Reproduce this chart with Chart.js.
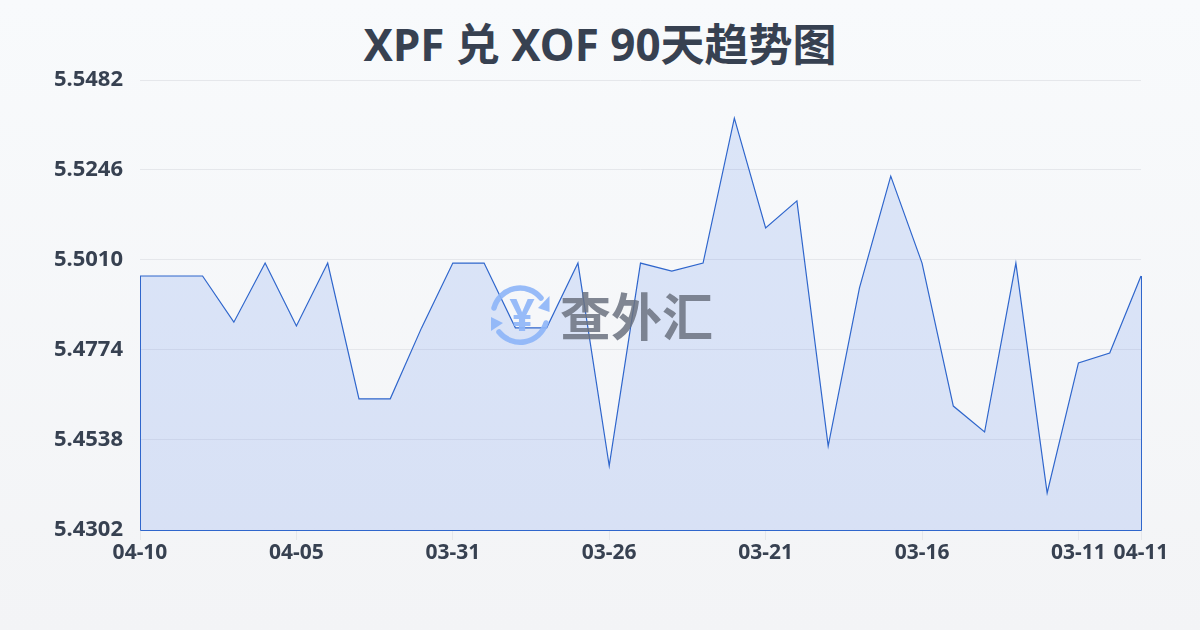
<!DOCTYPE html>
<html><head><meta charset="utf-8">
<script src="https://cdn.jsdelivr.net/npm/chart.js@4"></script>
<style>
html,body{margin:0;padding:0;width:1200px;height:630px;overflow:hidden;background:linear-gradient(180deg,#f8fafc 0%,#f3f4f6 100%);}
#wrap{position:relative;width:1200px;height:630px;}
#title{position:absolute;left:0;top:12px;width:1200px;text-align:center;font:700 44px/64px "Noto Sans","Noto Sans CJK SC";color:#374151;white-space:nowrap;}
#logo{position:absolute;left:0;top:0;z-index:2;opacity:.92;}
#markText{position:absolute;left:560px;top:282px;font:700 51px/64px "Noto Sans CJK SC";color:#6b7280;opacity:.85;white-space:nowrap;z-index:2;}
canvas{position:absolute;left:0;top:0;z-index:1;}
</style></head>
<body><div id="wrap">
<div id="title"></div>
<svg id="logo" width="1200" height="630" fill="none">
<g stroke="#8fb6f8" stroke-width="5.5" fill="none" stroke-linecap="round">
<path d="M494 308 A27 27 0 0 1 541 298"/>
<path d="M546 323 A27 27 0 0 1 499 332"/>
</g>
<path d="M538 308 L549.500 312 L549.500 296 Z" fill="#8fb6f8"/>
<path d="M503 323 L491 317 L491 331 Z" fill="#8fb6f8"/>
<text x="522" y="331" text-anchor="middle" font-family="Noto Sans" font-weight="700" font-size="44" fill="#8fb6f8">¥</text>
</svg>
<div id="markText">查外汇</div>
<canvas id="c" width="1200" height="630"></canvas></div>
<script>
const titleText = "XPF 兑 XOF 90天趋势图";
const dates = ["04-10","04-09","04-08","04-07","04-06","04-05","04-04","04-03","04-02","04-01","03-31","03-30","03-29","03-28","03-27","03-26","03-25","03-24","03-23","03-22","03-21","03-20","03-19","03-18","03-17","03-16","03-15","03-14","03-13","03-12","03-11","03-10","04-11"];
const rates = [5.4968,5.4968,5.4968,5.4847,5.5002,5.4837,5.5002,5.4646,5.4646,5.4832,5.5002,5.5002,5.4832,5.4832,5.5002,5.4470,5.5002,5.4981,5.5002,5.5382,5.5094,5.5165,5.4522,5.4937,5.5230,5.5002,5.4627,5.4559,5.5002,5.4399,5.4740,5.4766,5.4968];
const yTicks = [5.4302,5.4538,5.4774,5.5010,5.5246,5.5482];
const xShown = ["04-10","04-05","03-31","03-26","03-21","03-16","03-11","04-11"];
document.getElementById("title").textContent = titleText;

const frame = {id:"frame", afterDatasetsDraw(ch){
  const {left,right,bottom} = ch.chartArea, g = ch.ctx;
  g.save(); g.strokeStyle="#2f66cc"; g.lineWidth=1; g.beginPath();
  g.moveTo(left+.5,ch.scales.y.getPixelForValue(rates[0])); g.lineTo(left+.5,bottom+.5); g.lineTo(right+.5,bottom+.5); g.lineTo(right+.5,ch.scales.y.getPixelForValue(rates[rates.length-1]));
  g.stroke(); g.restore();
}};
new Chart(document.getElementById("c"),{
  type:"line",
  plugins:[frame],
  data:{labels:dates,datasets:[{data:rates,borderColor:"#2f66cc",borderWidth:1.2,tension:0,pointRadius:0,fill:"start",
    backgroundColor:"rgba(63,117,234,0.15)"}]},
  options:{responsive:false,animation:false,
    layout:{padding:{left:0,right:59,top:80,bottom:0}},
    plugins:{legend:{display:false},tooltip:{enabled:false},title:{display:false}},
    scales:{
      x:{grid:{drawOnChartArea:false,drawTicks:true,tickLength:10,color:"#e5e7eb"},border:{display:false},
        afterBuildTicks(a){a.ticks=a.ticks.filter(t=>xShown.includes(dates[t.value]));},
        afterFit(a){a.height=100;},
        ticks:{autoSkip:false,maxRotation:0,padding:0,color:"#374151",font:{family:'"Noto Sans"',size:21,weight:"700"},
          callback(v){return dates[v];}}},
      y:{min:yTicks[0],max:yTicks[5],grid:{color:"#e5e7eb",drawTicks:false},border:{display:false},
        afterBuildTicks(a){a.ticks=yTicks.map(v=>({value:v}));},
        afterFit(a){a.width=140;},
        ticks:{padding:17,color:"#374151",font:{family:'"Noto Sans"',size:22,weight:"700"},callback(v){return v.toFixed(4);}}}
    }}
});
</script></body></html>
